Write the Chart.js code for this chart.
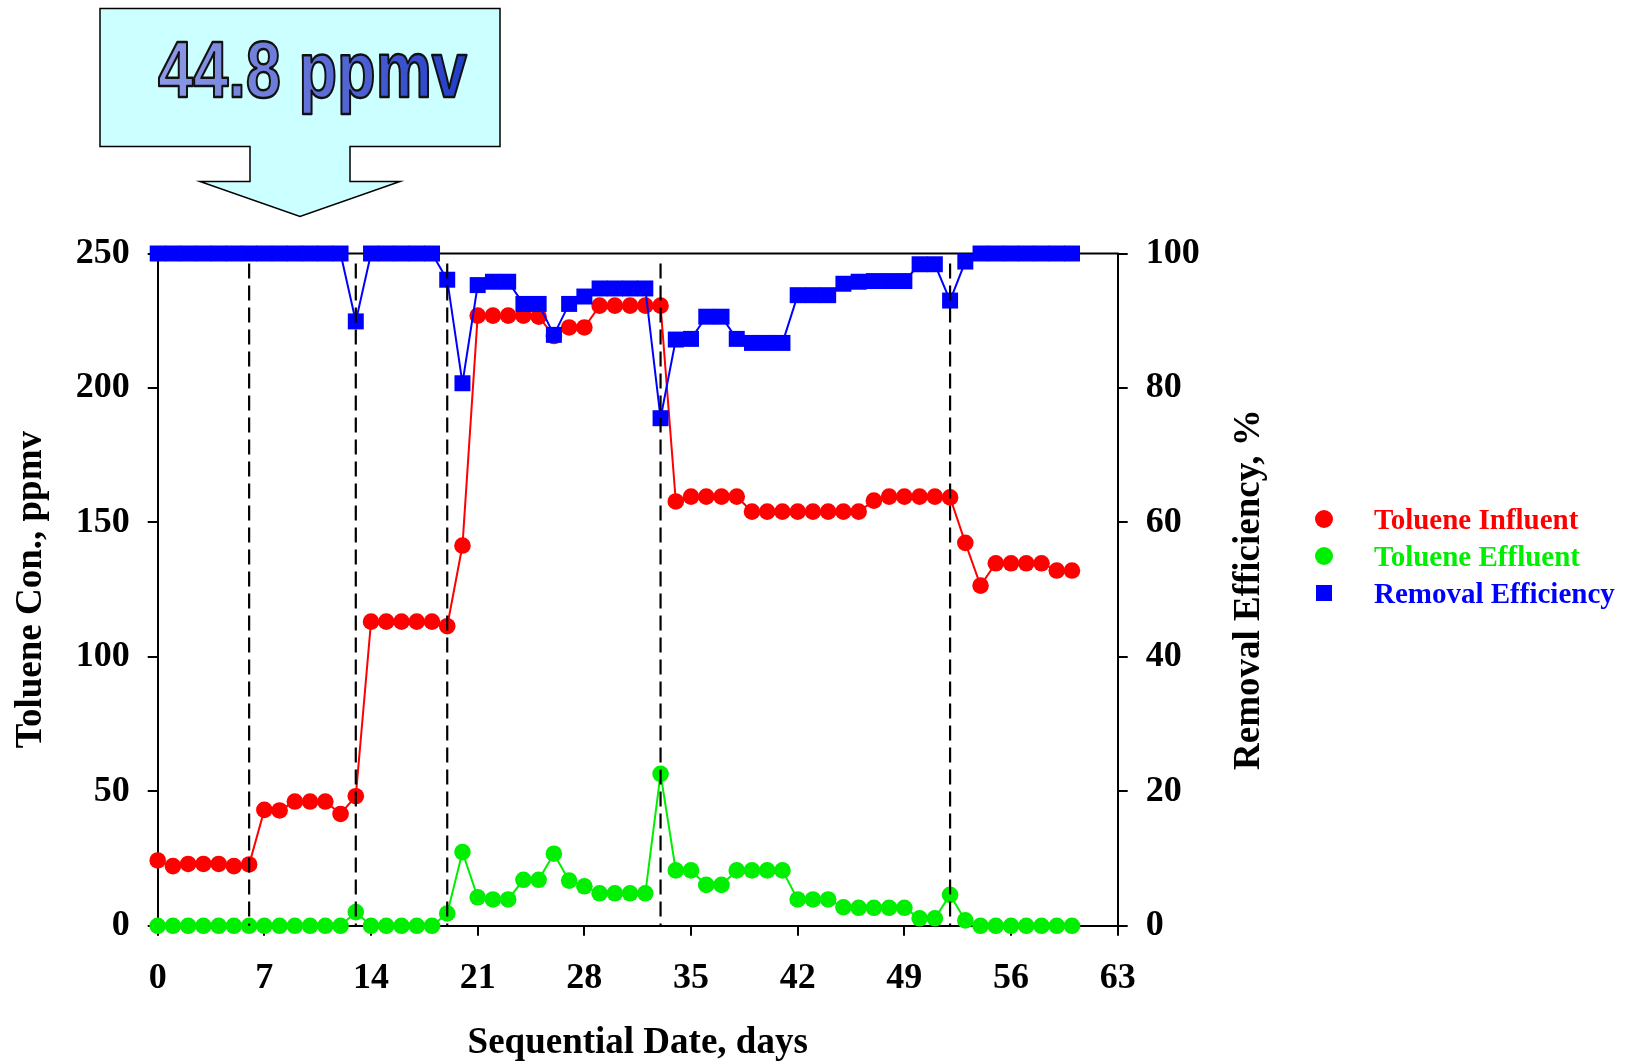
<!DOCTYPE html>
<html>
<head>
<meta charset="utf-8">
<script src="https://cdn.jsdelivr.net/npm/chart.js@4/dist/chart.umd.min.js"></script>
<style>
  html, body { margin: 0; padding: 0; background: #fff; }
  #wrap { width: 1635px; height: 1063px; }
</style>
</head>
<body>
<div id="wrap"><canvas id="chart" width="1635" height="1063"></canvas></div>
<script>
// Sequential day of operation
const days = [0,1,2,3,4,5,6,7,8,9,10,11,12,13,14,15,16,17,18,19,20,
  21,22,23,24,25,26,27,28,29,30,31,32,33,34,35,36,37,38,39,40,
  41,42,43,44,45,46,47,48,49,50,51,52,53,54,55,56,57,58,59,60];

// Toluene influent concentration, ppmv
const influent = [24.3,22.2,23.0,23.0,23.0,22.2,22.8,43.1,42.9,46.2,46.2,46.2,41.6,48.2,
  113.1,113.1,113.1,113.1,113.1,111.4,141.4,
  226.9,226.9,226.9,226.9,226.5,219.3,222.5,222.5,230.6,230.6,230.6,230.6,230.6,
  157.8,159.6,159.6,159.6,159.6,154.0,154.0,154.0,154.0,154.0,154.0,154.0,154.0,
  158.1,159.6,159.6,159.6,159.6,159.3,142.4,126.5,134.8,134.8,134.8,134.8,132.1,132.1];

// Toluene effluent concentration, ppmv
const effluent = [0,0,0,0,0,0,0,0,0,0,0,0,0,5.1,0,0,0,0,0,4.6,27.4,
  10.6,9.8,9.8,17.1,17.1,26.8,16.8,14.7,12.1,12.1,12.1,12.1,56.5,
  20.6,20.6,15.2,15.2,20.6,20.6,20.6,20.6,9.8,9.8,9.8,6.9,6.7,6.7,6.7,6.7,
  2.8,2.8,11.5,2.0,0,0,0,0,0,0,0];

// Removal efficiency, %
const removal = [100,100,100,100,100,100,100,100,100,100,100,100,100,89.9,
  100,100,100,100,100,96.1,80.7,
  95.3,95.8,95.8,92.5,92.5,87.9,92.5,93.6,94.8,94.8,94.8,94.8,75.5,
  87.2,87.3,90.6,90.6,87.3,86.7,86.7,86.7,93.8,93.8,93.8,95.5,95.8,95.9,95.9,95.9,
  98.4,98.4,93.0,98.8,100,100,100,100,100,100,100];

// Days at which the loading was stepped (dashed markers)
const phaseChanges = [6, 13, 19, 33, 52];

const seriesLabels = ['Toluene Influent', 'Toluene Effluent', 'Removal Efficiency'];
const seriesColors = ['#ff0000', '#00ee00', '#0000ff'];
const calloutText = '44.8 ppmv';
const rightTitle = 'Removal Efficiency, %';

const SERIF = "'Liberation Serif', 'Times New Roman', serif";
const SANS = "'Liberation Sans', Arial, sans-serif";

const toXY = (vals) => days.map((d, i) => ({ x: d, y: vals[i] }));

// Frame top edge (under the data) and the dashed phase markers (over the data)
const framePlugin = {
  id: 'frame',
  beforeDatasetsDraw(chart) {
    const { ctx, chartArea: a } = chart;
    ctx.save();
    ctx.strokeStyle = '#000';
    ctx.lineWidth = 2;
    ctx.beginPath();
    ctx.moveTo(a.left - 1, a.top);
    ctx.lineTo(a.right + 1, a.top);
    ctx.stroke();
    ctx.restore();
  },
  afterDatasetsDraw(chart) {
    const { ctx, chartArea: a, scales } = chart;
    ctx.save();
    ctx.strokeStyle = '#000';
    ctx.lineWidth = 2.2;
    ctx.setLineDash([15, 7]);
    phaseChanges.forEach(d => {
      const px = scales.x.getPixelForValue(d);
      ctx.beginPath();
      ctx.moveTo(px, a.top + 10);
      ctx.lineTo(px, a.bottom);
      ctx.stroke();
    });
    ctx.restore();
  }
};

// Right axis title, legend on the right and the concentration callout arrow
const decorPlugin = {
  id: 'decor',
  afterDraw(chart) {
    const ctx = chart.ctx;
    const a = chart.chartArea;
    ctx.save();

    // right axis title, reading bottom to top
    ctx.save();
    ctx.translate(1249, (a.top + a.bottom) / 2);
    ctx.rotate(-Math.PI / 2);
    ctx.font = 'bold 37px ' + SERIF;
    ctx.fillStyle = '#000';
    ctx.textAlign = 'center';
    ctx.textBaseline = 'middle';
    ctx.fillText(rightTitle, 0, 0);
    ctx.restore();

    // legend
    const rows = [519, 556, 593];
    ctx.font = 'bold 29px ' + SERIF;
    ctx.textBaseline = 'middle';
    ctx.textAlign = 'left';
    rows.forEach((y, i) => {
      ctx.fillStyle = seriesColors[i];
      if (i < 2) {
        ctx.beginPath();
        ctx.arc(1324, y, 9, 0, Math.PI * 2);
        ctx.fill();
      } else {
        ctx.fillRect(1316, y - 8, 16, 16);
      }
      ctx.fillText(seriesLabels[i], 1374, y + 3);
    });

    // callout arrow
    ctx.beginPath();
    ctx.moveTo(100, 8.5);
    ctx.lineTo(500, 8.5);
    ctx.lineTo(500, 146.5);
    ctx.lineTo(350, 146.5);
    ctx.lineTo(350, 181.5);
    ctx.lineTo(400, 181.5);
    ctx.lineTo(300, 216.5);
    ctx.lineTo(200, 181.5);
    ctx.lineTo(250, 181.5);
    ctx.lineTo(250, 146.5);
    ctx.lineTo(100, 146.5);
    ctx.closePath();
    ctx.fillStyle = '#ccffff';
    ctx.fill();
    ctx.strokeStyle = '#000';
    ctx.lineWidth = 1.5;
    ctx.stroke();

    // callout text, condensed bold with a blue gradient and dark outline
    ctx.font = 'bold 80px ' + SANS;
    ctx.textBaseline = 'alphabetic';
    const w = ctx.measureText(calloutText).width;
    const targetW = 309;
    ctx.translate(158, 97);
    ctx.scale(targetW / w, 1);
    const g = ctx.createLinearGradient(0, 0, w, 0);
    g.addColorStop(0, '#8e9be4');
    g.addColorStop(0.45, '#6676d8');
    g.addColorStop(1, '#1f3cc6');
    ctx.fillStyle = g;
    ctx.fillText(calloutText, 0, 0);
    ctx.lineWidth = 2.5;
    ctx.strokeStyle = '#111';
    ctx.lineJoin = 'round';
    ctx.strokeText(calloutText, 0, 0);
    ctx.restore();
  }
};

const tickFont = { family: SERIF, size: 36, weight: 'bold' };
const titleFont = { family: SERIF, size: 37, weight: 'bold', lineHeight: 1.0 };
const axisGrid = { drawOnChartArea: false, drawTicks: true, tickLength: 10, color: '#000', lineWidth: 2 };
const axisBorder = { display: true, color: '#000', width: 2 };

new Chart(document.getElementById('chart'), {
  type: 'line',
  data: {
    datasets: [
      {
        label: seriesLabels[0], data: toXY(influent), yAxisID: 'y', order: 2,
        borderColor: seriesColors[0], backgroundColor: seriesColors[0],
        borderWidth: 2, pointRadius: 8.3, pointBorderWidth: 0, pointStyle: 'circle',
        tension: 0, clip: false
      },
      {
        label: seriesLabels[1], data: toXY(effluent), yAxisID: 'y', order: 1,
        borderColor: seriesColors[1], backgroundColor: seriesColors[1],
        borderWidth: 2, pointRadius: 8.3, pointBorderWidth: 0, pointStyle: 'circle',
        tension: 0, clip: false
      },
      {
        label: seriesLabels[2], data: toXY(removal), yAxisID: 'y1', order: 0,
        borderColor: seriesColors[2], backgroundColor: seriesColors[2],
        borderWidth: 2, pointRadius: 11.3, pointBorderWidth: 0, pointStyle: 'rect',
        tension: 0, clip: false
      }
    ]
  },
  options: {
    responsive: false,
    animation: false,
    events: [],
    layout: { padding: { top: 253.5, left: 0, right: 357, bottom: 0 } },
    plugins: { legend: { display: false }, tooltip: { enabled: false } },
    scales: {
      x: {
        type: 'linear', position: 'bottom', min: 0, max: 63,
        ticks: { stepSize: 7, font: tickFont, color: '#000', padding: 21, maxRotation: 0, autoSkip: false },
        grid: axisGrid, border: axisBorder,
        title: { display: true, text: 'Sequential Date, days', font: titleFont, color: '#000', padding: { top: 0, bottom: 1 } },
        afterFit(s) { s.height = 137.2; }
      },
      y: {
        type: 'linear', position: 'left', min: 0, max: 250,
        ticks: { stepSize: 50, font: tickFont, color: '#000', padding: 18 },
        grid: axisGrid, border: axisBorder,
        title: { display: true, text: 'Toluene Con., ppmv', font: titleFont, color: '#000', padding: { top: 13, bottom: 0 } },
        afterFit(s) { s.width = 157.7; }
      },
      y1: {
        type: 'linear', position: 'right', min: 0, max: 100,
        ticks: { stepSize: 20, font: tickFont, color: '#000', padding: 18 },
        grid: axisGrid, border: axisBorder,
        title: { display: false },
        afterFit(s) { s.width = 160.3; }
      }
    }
  },
  plugins: [framePlugin, decorPlugin]
});
</script>
</body>
</html>
